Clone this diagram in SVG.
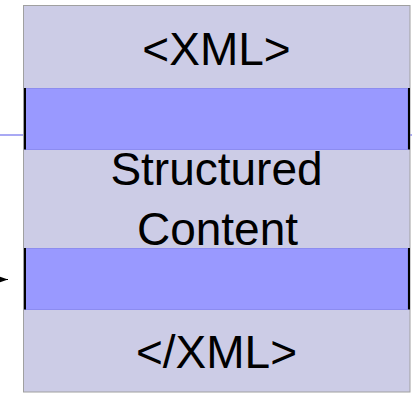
<svg xmlns="http://www.w3.org/2000/svg" width="412" height="393" viewBox="0 0 412 393">
<style>
.lbl{font-family:"Liberation Sans",Arial,sans-serif;font-size:46px;fill:#000;text-anchor:middle}
.band{fill:#9999ff;stroke:#8c8cf0;stroke-width:1}
.edge{stroke:#000;stroke-width:2}
</style>
<defs>
<marker id="ah" markerWidth="10" markerHeight="7" refX="10" refY="3.5" orient="auto" markerUnits="userSpaceOnUse">
<path d="M0,0 L10,3.5 L0,7 Z" fill="#000"/>
</marker>
</defs>
<g id="connectors">
<line x1="0" y1="135" x2="412" y2="135" stroke="#8c8cf0" stroke-width="1.5"/>
<line x1="-30" y1="279.5" x2="8" y2="279.5" stroke="#000" stroke-width="1" marker-end="url(#ah)"/>
</g>
<g id="xml-block">
<rect x="23.5" y="5.5" width="386.5" height="386.5" fill="#ccccE6" stroke="#a0a0a0" stroke-width="1"/>
</g>
<g id="band-top">
<rect class="band" x="25" y="88.5" width="382.5" height="61"/>
<line class="edge" x1="25" y1="88" x2="25" y2="149.5"/>
<line class="edge" x1="409" y1="88" x2="409" y2="149.5"/>
</g>
<g id="band-bottom">
<rect class="band" x="25" y="248.5" width="382.5" height="61"/>
<line class="edge" x1="25" y1="248" x2="25" y2="309.5"/>
<line class="edge" x1="409" y1="248" x2="409" y2="309.5"/>
</g>
<g id="labels">
<text class="lbl" x="216.5" y="65">&lt;XML&gt;</text>
<text class="lbl" x="216.5" y="185">Structured</text>
<text class="lbl" x="217.5" y="245">Content</text>
<text class="lbl" x="216.5" y="368">&lt;/XML&gt;</text>
</g>
</svg>
